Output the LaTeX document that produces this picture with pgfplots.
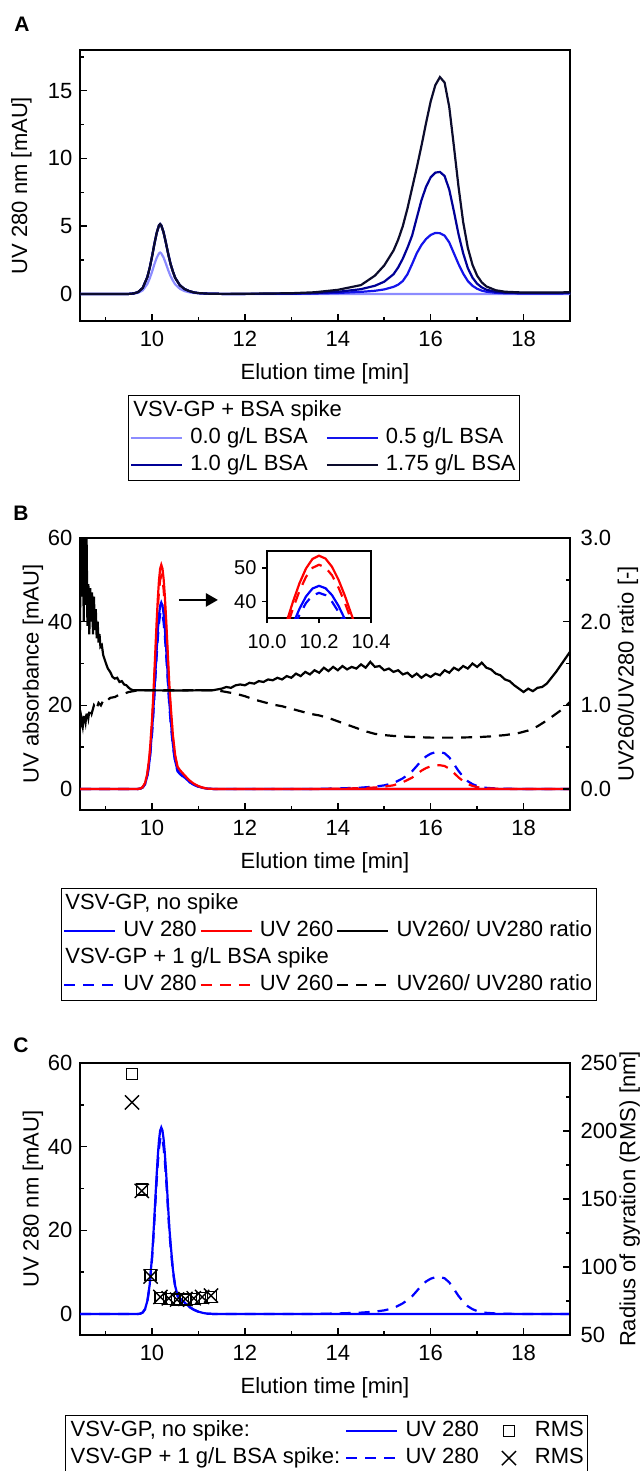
\documentclass[border=0pt]{standalone}
\usepackage{fontspec}
\setmainfont{Liberation Sans}
\usepackage{pgfplots}
\usepackage{pgfplotstable}
\pgfplotsset{compat=1.18}
\usetikzlibrary{arrows.meta}

\definecolor{cAzero}{RGB}{140,140,255}
\definecolor{cAhalf}{RGB}{20,20,235}
\definecolor{cAone}{RGB}{0,0,150}
\definecolor{cAmax}{RGB}{12,12,45}
\definecolor{uvblue}{RGB}{0,0,255}
\definecolor{uvred}{RGB}{255,0,0}

\pgfplotstableread{
x a0 a05 a10 a175
8.45 0 0 0 0
9.0 0 0 0 0
9.5 0 0 0 0
9.6 0.02 0.03 0.03 0.03
9.7 0.08 0.13 0.13 0.13
9.8 0.26 0.44 0.44 0.44
9.9 0.73 1.24 1.24 1.24
9.95 1.13 1.91 1.91 1.91
10.0 1.62 2.73 2.73 2.73
10.05 2.17 3.66 3.66 3.66
10.1 2.65 4.48 4.48 4.48
10.15 2.99 5.05 5.05 5.05
10.175 3.05 5.15 5.15 5.15
10.2 2.99 5.05 5.05 5.05
10.25 2.68 4.53 4.53 4.53
10.3 2.23 3.76 3.76 3.76
10.35 1.74 2.94 2.94 2.94
10.4 1.31 2.21 2.21 2.21
10.45 0.98 1.65 1.65 1.65
10.5 0.70 1.18 1.18 1.18
10.6 0.38 0.64 0.64 0.64
10.7 0.21 0.36 0.36 0.36
10.8 0.12 0.21 0.21 0.21
10.9 0.07 0.11 0.11 0.11
11.0 0.04 0.06 0.06 0.06
11.2 0.01 0.02 0.02 0.02
11.5 0 0 0 0
12.0 0 0 0 0.01
13.0 0 0.01 0.03 0.05
13.5 0 0.03 0.06 0.12
14.0 0 0.07 0.15 0.3
14.5 0 0.15 0.35 0.65
14.8 0 0.23 0.6 1.35
15.0 0 0.33 0.9 2.1
15.2 0 0.52 1.45 3.2
15.3 0 0.68 1.95 4.0
15.4 0 0.95 2.6 5.0
15.5 0 1.45 3.4 6.3
15.6 0 2.2 4.3 7.8
15.7 0 3.0 5.6 9.3
15.8 0 3.6 6.9 10.9
15.9 0 4.05 7.9 12.6
16.0 0 4.35 8.6 14.2
16.1 0 4.5 8.95 15.4
16.2 0 4.48 9.0 16.0
16.3 0 4.3 8.7 15.6
16.4 0 3.8 7.7 13.8
16.5 0 3.0 6.1 10.9
16.6 0 2.2 4.4 7.9
16.7 0 1.5 3.0 5.3
16.8 0 0.95 1.9 3.4
16.9 0 0.6 1.2 2.15
17.0 0 0.38 0.75 1.35
17.1 0 0.24 0.48 0.85
17.2 0 0.16 0.31 0.55
17.4 0 0.08 0.15 0.27
17.6 0 0.05 0.09 0.16
18.0 0 0.03 0.06 0.1
18.5 0 0.03 0.06 0.1
19.0 0 0.04 0.08 0.12
}\tabA

\pgfplotstableread{
x b r bs rs
8.45 0 0 0 0
9.0 0 0 0 0
9.5 0 0 0 0
9.6 0 0 0 0
9.7 0.03 0.03 0.03 0.03
9.75 0.11 0.13 0.11 0.13
9.8 0.39 0.47 0.37 0.45
9.85 1.2 1.45 1.15 1.37
9.9 3.12 3.75 2.98 3.56
9.95 7.0 8.42 6.67 7.99
10.0 13.65 16.4 13.0 15.58
10.025 18.02 21.65 17.17 20.56
10.05 22.92 27.55 21.85 26.16
10.075 28.1 33.77 26.78 32.07
10.1 33.18 39.88 31.62 37.87
10.125 37.78 45.4 36.0 43.11
10.15 41.43 49.79 39.48 47.29
10.175 43.8 52.64 41.74 49.98
10.2 44.6 53.6 42.5 50.9
10.225 43.89 52.74 41.82 50.09
10.25 41.83 50.28 39.87 47.74
10.275 38.62 46.42 36.81 44.08
10.3 34.57 41.54 32.94 39.45
10.325 29.93 35.97 28.52 34.15
10.35 25.11 30.18 23.93 28.66
10.375 20.43 24.55 19.47 23.31
10.4 16.95 20.37 16.15 19.34
10.45 10.7 12.86 10.2 12.22
10.5 6.69 8.04 6.38 7.64
10.55 4.46 5.36 4.25 5.09
10.6 3.79 4.56 3.61 4.33
10.7 2.77 3.32 2.64 3.16
10.8 1.78 2.14 1.7 2.04
10.9 1.07 1.29 1.02 1.22
11.0 0.58 0.7 0.55 0.66
11.1 0.27 0.32 0.26 0.31
11.2 0.09 0.11 0.09 0.1
11.4 0 0 0 0
12.0 0 0 0 0
13.0 0 0 0 0
13.5 0 0 0.05 0.03
14.0 0 0 0.15 0.1
14.5 0 0 0.35 0.22
14.8 0 0 0.59 0.38
15.0 0 0 0.89 0.57
15.2 0 0 1.42 0.91
15.4 0 0 2.57 1.65
15.5 0 0 3.36 2.17
15.6 0 0 4.25 2.74
15.7 0 0 5.5 3.53
15.8 0 0 6.81 4.39
15.9 0 0 7.79 5.02
16.0 0 0 8.45 5.44
16.1 0 0 8.81 5.67
16.2 0 0 8.85 5.7
16.3 0 0 8.56 5.51
16.4 0 0 7.58 4.88
16.5 0 0 6.0 3.86
16.6 0 0 4.33 2.79
16.7 0 0 2.95 1.9
16.8 0 0 1.87 1.2
16.9 0 0 1.18 0.76
17.0 0 0 0.73 0.47
17.1 0 0 0.47 0.3
17.2 0 0 0.3 0.19
17.4 0 0 0.15 0.1
17.6 0 0 0.09 0.06
18.0 0 0 0 0
19.0 0 0 0 0
}\tabB

\pgfplotstableread{
x y
8.45 1.9
8.47 3.6
8.49 2.3
8.51 3.5
8.53 2.0
8.55 3.3
8.57 2.2
8.59 3.1
8.61 1.95
8.63 2.45
8.65 1.85
8.67 2.4
8.69 2.0
8.71 2.35
8.73 1.85
8.75 2.3
8.77 1.9
8.79 2.15
8.81 1.8
8.83 2.0
8.85 1.75
8.87 1.85
8.89 1.7
8.92 1.72
8.95 1.6
8.98 1.55
9.01 1.5
9.05 1.44
9.1 1.4
9.15 1.34
9.2 1.32
9.25 1.33
9.3 1.28
9.35 1.29
9.4 1.25
9.45 1.24
9.5 1.21
9.55 1.19
9.6 1.18
10.0 1.18
10.5 1.178
11.0 1.18
11.3 1.18
11.4 1.19
11.5 1.2
11.6 1.22
11.7 1.21
11.8 1.24
11.9 1.25
12.0 1.24
12.1 1.27
12.2 1.26
12.3 1.29
12.4 1.28
12.5 1.31
12.6 1.3
12.7 1.33
12.8 1.31
12.9 1.35
13.0 1.33
13.1 1.38
13.2 1.35
13.3 1.40
13.4 1.37
13.5 1.42
13.6 1.39
13.7 1.45
13.8 1.41
13.9 1.46
14.0 1.42
14.1 1.47
14.2 1.43
14.3 1.46
14.4 1.44
14.5 1.49
14.6 1.45
14.7 1.52
14.8 1.46
14.9 1.47
15.0 1.42
15.1 1.44
15.2 1.4
15.3 1.42
15.4 1.37
15.5 1.39
15.6 1.34
15.7 1.38
15.8 1.33
15.9 1.37
16.0 1.34
16.1 1.38
16.2 1.36
16.3 1.42
16.4 1.39
16.5 1.45
16.6 1.42
16.7 1.47
16.8 1.44
16.9 1.5
17.0 1.46
17.1 1.51
17.2 1.45
17.3 1.43
17.4 1.38
17.5 1.36
17.6 1.31
17.7 1.29
17.8 1.24
17.9 1.2
18.0 1.16
18.1 1.2
18.2 1.17
18.3 1.21
18.4 1.22
18.5 1.26
18.6 1.33
18.7 1.4
18.8 1.48
18.9 1.56
19.0 1.64
}\tabRs

\pgfplotstableread{
x y
8.45 0.72
8.48 0.85
8.51 0.75
8.54 0.9
8.57 0.8
8.6 0.95
8.63 0.85
8.66 0.97
8.7 0.9
8.75 1.0
8.8 0.95
8.85 1.03
8.9 1.0
8.95 1.06
9.0 1.04
9.1 1.09
9.2 1.1
9.3 1.13
9.4 1.14
9.5 1.16
9.6 1.17
9.7 1.18
11.4 1.18
11.5 1.17
11.6 1.16
11.8 1.14
12.0 1.11
12.2 1.07
12.4 1.04
12.6 1.01
12.8 0.99
13.0 0.96
13.2 0.93
13.4 0.9
13.6 0.88
13.8 0.85
14.0 0.81
14.2 0.77
14.4 0.73
14.6 0.69
14.8 0.66
15.0 0.645
15.2 0.635
15.5 0.625
16.0 0.615
16.5 0.615
17.0 0.62
17.3 0.63
17.6 0.645
17.9 0.67
18.1 0.7
18.3 0.75
18.5 0.82
18.7 0.9
18.85 0.96
19.0 1.04
}\tabRd

\pgfplotstableread{
x sq cr
9.57 242 221
9.78 157 156
9.97 94 93
10.18 77 78
10.36 76.5 77
10.54 76 76
10.72 76 76.5
10.90 76.5 77
11.08 77 78
11.27 78 79
}\tabC

\pgfplotsset{
  common/.style={
    scale only axis,
    axis line style={line width=1.8pt},
    tick style={line width=1.5pt, black},
    major tick length=7pt,
    minor tick length=4pt,
    tick align=inside,
    /pgf/number format/assume math mode=true,
    legend cell align=left,
    legend image code/.code={\draw[##1] (0pt,0pt) -- (51pt,0pt);},
  },
  markleg/.style={
    legend image code/.code={\path[draw=none] (-7pt,0pt) -- (19pt,0pt); \draw[##1] plot coordinates {(0pt,0pt)};},
  },
  mainx/.style={
    common, width=490pt, xmin=8.45, xmax=19,
    xtick={10,12,14,16,18}, minor xtick={9,11,13,15,17,19},
    xticklabel style={yshift=-3pt},
    xlabel={Elution time [min]},
    xlabel style={at={(axis description cs:0.5,-0.195)}, anchor=center},
    tick pos=left,
  },
  rightax/.style={
    common, width=490pt, xmin=8.45, xmax=19,
    axis y line*=right, axis x line=none,
    yticklabel style={xshift=3pt},
  },
}

\tikzset{
  dsh/.style={dash pattern=on 11pt off 8pt},
  lw/.style={line width=2.2pt},
}

\begin{document}
\fontsize{22}{26}\selectfont
\begin{tikzpicture}
\useasboundingbox (0,0) rectangle (644pt,-1471pt);

% Panel letters
\node[font=\bfseries\fontsize{21}{25}\selectfont] at (22pt,-24pt) {A};
\node[font=\bfseries\fontsize{21}{25}\selectfont] at (21pt,-513pt) {B};
\node[font=\bfseries\fontsize{21}{25}\selectfont] at (21pt,-1045pt) {C};

% ---------------- Panel A ----------------
\begin{axis}[mainx, at={(80pt,-321pt)}, anchor=south west, height=271pt,
  ymin=-2, ymax=18, ytick={0,5,10,15}, minor ytick={2.5,7.5,12.5,17.5},
  ylabel={UV 280 nm [mAU]},
  ylabel style={at={(axis description cs:-0.1196,0.5)}, anchor=center},
  legend columns=2,
  legend style={at={(axis description cs:0.097,-0.273)}, anchor=north west,
    draw=black, line width=1.3pt, inner sep=2pt,
    /tikz/every odd column/.append style={column sep=5pt},
    /tikz/every even column/.append style={column sep=16pt},
    nodes={inner xsep=2pt, inner ysep=3pt, text height=16pt, text depth=5pt}},
]
\addlegendimage{empty legend}
\addlegendentry{\makebox[0pt][l]{\hspace*{-57pt}VSV-GP + BSA spike}}
\addlegendimage{empty legend}
\addlegendentry{}
\addplot[cAzero, lw] table[x=x, y=a0]{\tabA};
\addlegendentry{0.0 g/L BSA}
\addplot[cAhalf, lw] table[x=x, y=a05]{\tabA};
\addlegendentry{0.5 g/L BSA}
\addplot[cAone, lw] table[x=x, y=a10]{\tabA};
\addlegendentry{1.0 g/L BSA}
\addplot[cAmax, lw] table[x=x, y=a175]{\tabA};
\addlegendentry{1.75 g/L BSA}
\end{axis}

% ---------------- Panel B ----------------
\begin{axis}[mainx, at={(80pt,-810pt)}, anchor=south west, height=272pt,
  ymin=-5, ymax=60, ytick={0,20,40,60}, minor ytick={10,30,50},
  ylabel={UV absorbance [mAU]},
  ylabel style={at={(axis description cs:-0.096,0.5)}, anchor=center},
]
\addplot[uvblue, lw, dsh] table[x=x, y=bs]{\tabB};
\addplot[uvred, lw, dsh] table[x=x, y=rs]{\tabB};
\addplot[uvblue, lw] table[x=x, y=b]{\tabB};
\addplot[uvred, lw] table[x=x, y=r]{\tabB};
\draw[-{Triangle[length=12pt,width=13pt]}, line width=2.4pt] (axis cs:10.58,45.2) -- (axis cs:11.42,45.2);
\end{axis}

\begin{axis}[rightax, at={(80pt,-810pt)}, anchor=south west, height=272pt,
  ymin=-0.25, ymax=3, ytick={0,1,2,3}, minor ytick={0.5,1.5,2.5},
  yticklabel style={/pgf/number format/fixed, /pgf/number format/fixed zerofill, /pgf/number format/precision=1},
  ylabel={UV260/UV280 ratio [-]},
  ylabel style={at={(axis description cs:1.118,0.5)}, anchor=center},
  legend columns=3,
  legend style={at={(axis description cs:-0.0398,-0.2868)}, anchor=north west,
    draw=black, line width=1.3pt, inner sep=2pt,
    /tikz/every odd column/.append style={column sep=5pt},
    /tikz/every even column/.append style={column sep=1pt},
    nodes={inner xsep=2pt, inner ysep=3pt, text height=16pt, text depth=5pt}},
]
\addplot[black, lw, forget plot] table[x=x, y=y]{\tabRs};
\addplot[black, lw, dsh, forget plot] table[x=x, y=y]{\tabRd};
\addlegendimage{empty legend}
\addlegendentry{\makebox[0pt][l]{\hspace*{-58pt}VSV-GP, no spike}}
\addlegendimage{empty legend}
\addlegendentry{}
\addlegendimage{empty legend}
\addlegendentry{}
\addlegendimage{uvblue, lw}
\addlegendentry{UV 280}
\addlegendimage{uvred, lw}
\addlegendentry{UV 260}
\addlegendimage{black, lw}
\addlegendentry{UV260/ UV280 ratio}
\addlegendimage{empty legend}
\addlegendentry{\makebox[0pt][l]{\hspace*{-58pt}VSV-GP + 1 g/L BSA spike}}
\addlegendimage{empty legend}
\addlegendentry{}
\addlegendimage{empty legend}
\addlegendentry{}
\addlegendimage{uvblue, lw, dsh}
\addlegendentry{UV 280}
\addlegendimage{uvred, lw, dsh}
\addlegendentry{UV 260}
\addlegendimage{black, lw, dsh}
\addlegendentry{UV260/ UV280 ratio}
\end{axis}

% inset
\begin{axis}[common, at={(267pt,-618pt)}, anchor=south west, width=104pt, height=67pt,
  xmin=10, xmax=10.4, ymin=35, ymax=55, xtick={10,10.2,10.4}, ytick={40,50},
  axis line style={line width=1.5pt},
  tick align=outside, major tick length=5pt,
  tick pos=left,
  axis background/.style={fill=white},
  xticklabel style={/pgf/number format/fixed, /pgf/number format/fixed zerofill, /pgf/number format/precision=1, yshift=-4pt},
  yticklabel style={xshift=2pt},
  font=\fontsize{20}{24}\selectfont,
]
\addplot[uvblue, lw, dsh] table[x=x, y=bs]{\tabB};
\addplot[uvred, lw, dsh] table[x=x, y=rs]{\tabB};
\addplot[uvblue, lw] table[x=x, y=b]{\tabB};
\addplot[uvred, lw] table[x=x, y=r]{\tabB};
\end{axis}

% ---------------- Panel C ----------------
\begin{axis}[mainx, at={(80pt,-1335pt)}, anchor=south west, height=272pt,
  ymin=-5, ymax=60, ytick={0,20,40,60}, minor ytick={10,30,50},
  ylabel={UV 280 nm [mAU]},
  ylabel style={at={(axis description cs:-0.096,0.5)}, anchor=center},
]
\addplot[uvblue, lw, dsh] table[x=x, y=bs]{\tabB};
\addplot[uvblue, lw] table[x=x, y=b]{\tabB};
\end{axis}

\begin{axis}[rightax, at={(80pt,-1335pt)}, anchor=south west, height=272pt,
  ymin=50, ymax=250, ytick={50,100,150,200,250}, minor ytick={75,125,175,225},
  ylabel={Radius of gyration (RMS) [nm]},
  ylabel style={at={(axis description cs:1.122,0.5)}, anchor=center},
  legend columns=3,
  legend style={at={(axis description cs:-0.0306,-0.294)}, anchor=north west,
    draw=black, line width=1.3pt, inner sep=2pt,
    /tikz/column 1/.append style={column sep=1pt},
    /tikz/column 2/.append style={column sep=3pt},
    /tikz/column 3/.append style={column sep=5pt},
    /tikz/column 4/.append style={column sep=21pt},
    /tikz/column 5/.append style={column sep=5pt},
    nodes={inner xsep=2pt, inner ysep=3pt, text height=16pt, text depth=5pt}},
]
\addplot[black, only marks, mark=square, mark size=5.5pt, mark options={line width=1.4pt}, forget plot] table[x=x, y=sq]{\tabC};
\addplot[black, only marks, mark=x, mark size=10pt, mark options={line width=1.4pt}, forget plot] table[x=x, y=cr]{\tabC};
\addlegendimage{empty legend}
\addlegendentry{VSV-GP, no spike:}
\addlegendimage{uvblue, lw}
\addlegendentry{UV 280}
\addlegendimage{black, only marks, mark=square, mark size=5.5pt, mark options={line width=1.4pt}, markleg}
\addlegendentry{RMS}
\addlegendimage{empty legend}
\addlegendentry{VSV-GP + 1 g/L BSA spike:}
\addlegendimage{uvblue, lw, dsh}
\addlegendentry{UV 280}
\addlegendimage{black, only marks, mark=x, mark size=10pt, mark options={line width=1.4pt}, markleg}
\addlegendentry{RMS}
\end{axis}

\end{tikzpicture}
\end{document}
